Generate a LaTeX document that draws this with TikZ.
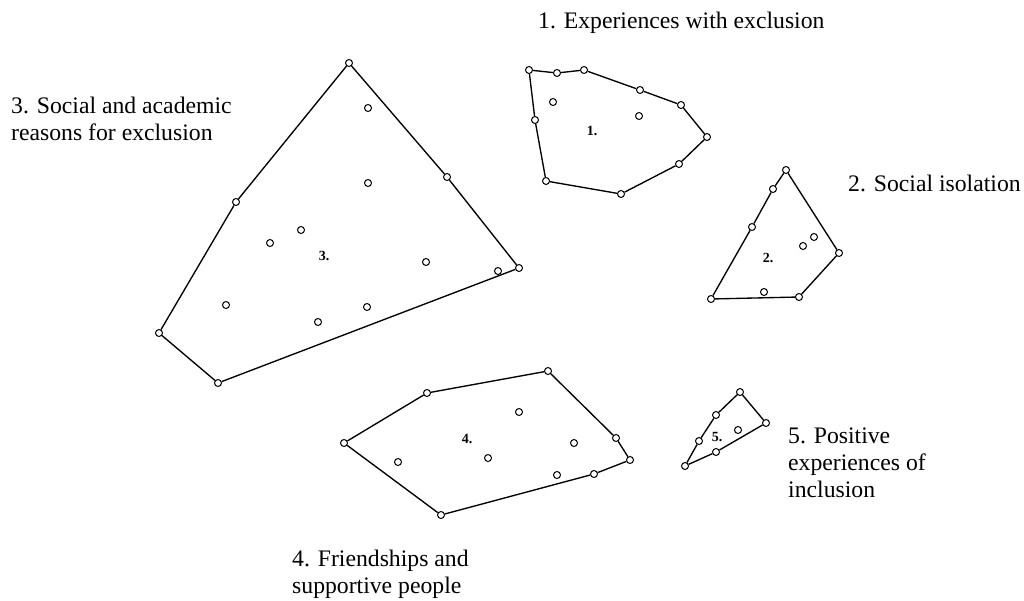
\documentclass[tikz,border=0pt]{standalone}
\usepackage{fontspec}
\setmainfont{Liberation Serif}
\begin{document}
\begin{tikzpicture}[x=1pt,y=-1pt,
  pt/.style={circle,draw,line width=1pt,fill=white,inner sep=0pt,minimum size=7pt},
  edge/.style={line width=1.35pt},
  clab/.style={font=\fontsize{14}{16}\selectfont\bfseries,inner sep=0pt},
  lab/.style={font=\fontsize{23.7}{27}\selectfont,align=left,anchor=base west,inner sep=0pt}]
\useasboundingbox (0,0) rectangle (1024,601);
% cluster 1
\node[pt] (a1) at (529,70) {};
\node[pt] (a2) at (557,73) {};
\node[pt] (a3) at (584,70) {};
\node[pt] (a4) at (640,90) {};
\node[pt] (a5) at (681,105) {};
\node[pt] (a6) at (707,137) {};
\node[pt] (a7) at (679,164) {};
\node[pt] (a8) at (621,194) {};
\node[pt] (a9) at (546,181) {};
\node[pt] (a10) at (535,120) {};
\node[pt] (a11) at (553,102) {};
\node[pt] (a12) at (639,116) {};
\node[clab] (l1) at (592,131) {1.};
\draw[edge] (a1)--(a2)--(a3)--(a4)--(a5)--(a6)--(a7)--(a8)--(a9)--(a10)--(a1);
% cluster 2
\node[pt] (b1) at (786,170) {};
\node[pt] (b2) at (773,189) {};
\node[pt] (b3) at (752,227) {};
\node[pt] (b4) at (711,299) {};
\node[pt] (b5) at (799,297) {};
\node[pt] (b6) at (839,253) {};
\node[pt] (b7) at (814,237) {};
\node[pt] (b8) at (803,246) {};
\node[pt] (b9) at (764,292) {};
\node[clab] (l2) at (768,258) {2.};
\draw[edge] (b1)--(b2)--(b3)--(b4)--(b5)--(b6)--(b1);
% cluster 3
\node[pt] (c1) at (349,63) {};
\node[pt] (c2) at (447,177) {};
\node[pt] (c3) at (519,268) {};
\node[pt] (c4) at (218,383) {};
\node[pt] (c5) at (159,333) {};
\node[pt] (c6) at (236,202) {};
\node[pt] (c7) at (498,271) {};
\node[pt] (c8) at (368,108) {};
\node[pt] (c9) at (368,183) {};
\node[pt] (c10) at (301,230) {};
\node[pt] (c11) at (270,243) {};
\node[pt] (c12) at (426,262) {};
\node[pt] (c13) at (226,305) {};
\node[pt] (c14) at (367,307) {};
\node[pt] (c15) at (318,322) {};
\node[clab] (l3) at (324,256) {3.};
\draw[edge] (c1)--(c2)--(c3)--(c4)--(c5)--(c6)--(c1);
% cluster 4
\node[pt] (d1) at (344,443) {};
\node[pt] (d2) at (427,393) {};
\node[pt] (d3) at (548,371) {};
\node[pt] (d4) at (616,438) {};
\node[pt] (d5) at (630,460) {};
\node[pt] (d6) at (594,474) {};
\node[pt] (d7) at (441,515) {};
\node[pt] (d8) at (519,412) {};
\node[pt] (d9) at (574,443) {};
\node[pt] (d10) at (488,458) {};
\node[pt] (d11) at (398,462) {};
\node[pt] (d12) at (557,475) {};
\node[clab] (l4) at (467,439) {4.};
\draw[edge] (d1)--(d2)--(d3)--(d4)--(d5)--(d6)--(d7)--(d1);
% cluster 5
\node[pt] (e1) at (740,392) {};
\node[pt] (e2) at (766,423) {};
\node[pt] (e3) at (716,452) {};
\node[pt] (e4) at (685,466) {};
\node[pt] (e5) at (699,441) {};
\node[pt] (e6) at (716,415) {};
\node[pt] (e7) at (738,430) {};
\node[clab] (l5) at (717,437) {5.};
\draw[edge] (e1)--(e2)--(e3)--(e4)--(e5)--(e6)--(e1);
% labels (anchor = baseline of last line)
\node[lab] (t1) at (538,29) {1. Experiences with exclusion};
\node[lab] (t2) at (848,192) {2. Social isolation};
\node[lab] (t3) at (11,141) {3. Social and academic\\reasons for exclusion};
\node[lab] (t4) at (292,593) {4. Friendships and\\supportive people};
\node[lab] (t5) at (788,497) {5. Positive\\experiences of\\inclusion};
\end{tikzpicture}
\end{document}
